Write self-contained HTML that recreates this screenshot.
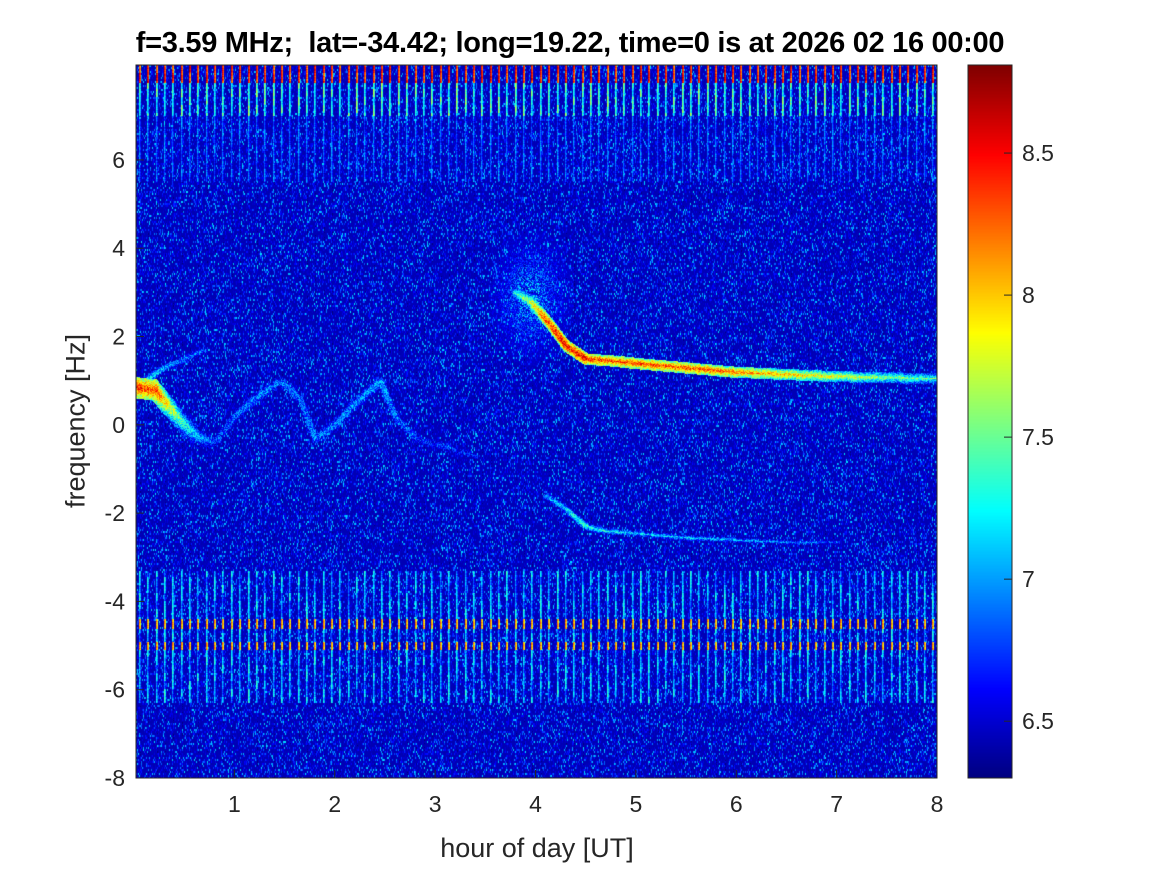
<!DOCTYPE html>
<html><head><meta charset="utf-8"><style>
body{margin:0;background:#fff;font-family:"Liberation Sans",sans-serif;}
#wrap{position:relative;width:1167px;height:875px;overflow:hidden;background:#fff}
.t{position:absolute;font-size:20px;color:#262626;white-space:nowrap}
</style></head><body>
<div id="wrap">
<div class="t" style="left:570px;top:27px;transform:translateX(-50%);font-weight:bold;font-size:29px;color:#000;letter-spacing:-0.3px">f=3.59 MHz;&nbsp; lat=-34.42; long=19.22, time=0 is at 2026 02 16 00:00</div>
<canvas id="cv" width="801" height="713" style="position:absolute;left:136px;top:65px"></canvas>
<canvas id="cb" width="44" height="713" style="position:absolute;left:968px;top:65px"></canvas>
<svg id="ax" width="1167" height="875" style="position:absolute;left:0;top:0"></svg>
<div class="t" style="left:537px;top:833px;font-size:27px;transform:translateX(-50%)">hour of day [UT]</div>
<div class="t" style="left:76px;top:421px;font-size:27px;transform:translate(-50%,-50%) rotate(-90deg)">frequency [Hz]</div>
</div>
<script>
const xTicks=[1,2,3,4,5,6,7,8];
const yTicks=[-8,-6,-4,-2,0,2,4,6];
const cTicks=[6.5,7,7.5,8,8.5];
const ridgeEarly=[[0.02,0.85,8.7],[0.2,0.8,8.6],[0.35,0.4,8.0],[0.5,0.0,7.6],[0.65,-0.3,7.3],[0.8,-0.4,7.0]];
const ridgeUpper=[[0.1,1.0,7.5],[0.3,1.3,7.3],[0.5,1.5,7.2],[0.7,1.7,7.0]];
const ridgeWiggle=[[0.8,-0.4,7.0],[1.0,0.2,7.1],[1.2,0.6,7.2],[1.45,1.0,7.2],[1.65,0.6,7.1],[1.8,-0.3,7.2],[2.0,0.0,7.2],[2.2,0.5,7.2],[2.45,1.0,7.3],[2.6,0.2,7.1],[2.8,-0.3,7.0],[3.1,-0.5,7.0],[3.4,-0.7,6.9]];
const ridgeMain=[[3.8,3.0,7.6],[3.95,2.8,8.0],[4.1,2.4,8.5],[4.3,1.8,8.7],[4.5,1.5,8.7],[4.8,1.45,8.6],[5.0,1.4,8.6],[5.5,1.3,8.6],[6.0,1.2,8.5],[6.5,1.15,8.3],[7.0,1.1,8.1],[7.5,1.08,7.9],[8.0,1.05,7.7]];
const ridgeLower=[[4.1,-1.6,7.2],[4.3,-1.9,7.4],[4.5,-2.3,7.6],[4.7,-2.4,7.5],[5.0,-2.45,7.4],[5.5,-2.55,7.4],[6.0,-2.6,7.3],[6.5,-2.65,7.2],[7.0,-2.65,7.0]];
const X0=0.02,X1=8,Y0=-8,Y1=8.15,C0=6.3,C1=8.81;
const W=801,H=713;
const sx=t=>(t-X0)/(X1-X0)*W, sy=f=>(Y1-f)/(Y1-Y0)*H;
function jet(v){let t=(v-C0)/(C1-C0);t=Math.max(0,Math.min(1,t));
 const r=Math.min(1,Math.max(0,1.5-Math.abs(4*t-3))),g=Math.min(1,Math.max(0,1.5-Math.abs(4*t-2))),b=Math.min(1,Math.max(0,1.5-Math.abs(4*t-1)));
 return [r*255|0,g*255|0,b*255|0];}
function hash(x,y){let h=(x*374761393+y*668265263)|0;h=(h^(h>>>13))*1274126177|0;return ((h^(h>>>16))>>>0)/4294967296;}
const cv=document.getElementById('cv'),ctx=cv.getContext('2d');
const img=ctx.createImageData(W,H);
const val=new Float32Array(W*H);
for(let y=0;y<H;y++)for(let x=0;x<W;x++){const n=hash(x,y>>1);val[y*W+x]=6.43+Math.pow(n,6)*0.75;}
for(let y=0;y<H;y++)for(let x=0;x<W;x++){const t=X0+x/W*(X1-X0),f=Y1-y/H*(Y1-Y0);
 const w=Math.exp(-Math.pow((t-3.95)/0.25,2))*Math.exp(-Math.pow((f-2.9)/0.9,2));
 if(w>0.05){const n=hash(x+7,y+3);const vv=6.45+n*n*1.0*w;if(vv>val[y*W+x])val[y*W+x]=vv;}}
for(let x=0;x<W;x+=8.35){const xi=Math.round(x)+3;const k=Math.round(x/8.35);
 for(let y=0;y<H;y++){const f=Y1-y/H*(Y1-Y0);let v=6.5;const r=hash(k,y>>3);
  if(f>7.75)v=8.5+r*0.3;else if(f>7.0)v=7.3+0.5*r;else if(f>5.5)v=6.85+0.3*r;
  if(f<-3.3&&f>-6.3){v=6.95+r*0.55;if(Math.abs(f+4.5)<0.12||Math.abs(f+5.0)<0.1)v=8.3;}
  v-=hash(k+99,y)*0.25;
  for(let d=0;d<2;d++){const i=y*W+xi+d;if(xi+d<W&&v>val[i])val[i]=v-d*0.25;}}}
function ridge(arr,wid){for(let s=0;s<arr.length-1;s++){const a=arr[s],b=arr[s+1];
 for(let q=0;q<=40;q++){const u=q/40,t=a[0]+(b[0]-a[0])*u,f=a[1]+(b[1]-a[1])*u,v=a[2]+(b[2]-a[2])*u;
  const cx=sx(t),cy=sy(f);
  for(let dy=-wid;dy<=wid;dy++)for(let dx=-2;dx<=2;dx++){const x=Math.round(cx+dx),y=Math.round(cy+dy);
   if(x<0||x>=W||y<0||y>=H)continue;const vv=v-Math.abs(dy)/wid*0.8-hash(x,y)*0.6;const i=y*W+x;if(vv>val[i])val[i]=vv;}}}}
ridge(ridgeEarly,10);ridge(ridgeUpper,4);ridge(ridgeWiggle,7);ridge(ridgeMain,5);ridge(ridgeLower,3);
for(let i=0;i<W*H;i++){const c=jet(val[i]);img.data[i*4]=c[0];img.data[i*4+1]=c[1];img.data[i*4+2]=c[2];img.data[i*4+3]=255;}
ctx.putImageData(img,0,0);
const cb=document.getElementById('cb').getContext('2d');
for(let y=0;y<H;y++){const c=jet(C1-(y/H)*(C1-C0));cb.fillStyle=`rgb(${c})`;cb.fillRect(0,y,44,1);}
const ax=document.getElementById('ax');const NS='http://www.w3.org/2000/svg';
function el(tag,at,txt){const e=document.createElementNS(NS,tag);for(const k in at)e.setAttribute(k,at[k]);if(txt!=null)e.textContent=txt;ax.appendChild(e);return e;}
let r=el('rect',{x:136,y:65,width:801,height:713,fill:'none',stroke:'#262626','stroke-width':1});


r=el('rect',{x:968,y:65,width:44,height:713,fill:'none',stroke:'#262626','stroke-width':1});


xTicks.forEach(t=>{const x=136+sx(t);el('line',{x1:x,x2:x,y1:778,y2:770,stroke:'#262626'});
 const e=el('text',{x:x,y:812,'text-anchor':'middle','font-size':23,fill:'#262626','font-family':'Liberation Sans'},t);
 
 });
yTicks.forEach(t=>{const y=65+sy(t);el('line',{x1:136,x2:144,y1:y,y2:y,stroke:'#262626'});
 const e=el('text',{x:125,y:y+8,'text-anchor':'end','font-size':23,fill:'#262626','font-family':'Liberation Sans'},t);
 
 });
cTicks.forEach(t=>{const y=65+(C1-t)/(C1-C0)*H;el('line',{x1:1004,x2:1012,y1:y,y2:y,stroke:'#262626'});
 const e=el('text',{x:1022,y:y+8,'font-size':23,fill:'#262626','font-family':'Liberation Sans'},t);
 
 });
</script>
</body></html>
